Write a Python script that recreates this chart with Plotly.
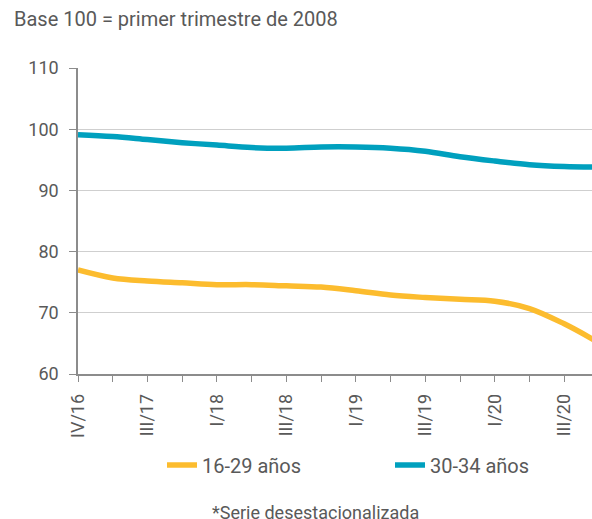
import plotly.graph_objects as go

# trimestres (eje x) y series
quarters = ["IV/16", "I/17", "III/17", "IV/17", "I/18", "II/18", "III/18", "IV/18",
            "I/19", "II/19", "III/19", "IV/19", "I/20", "II/20", "III/20", "IV/20"]
shown_labels = ["IV/16", "III/17", "I/18", "III/18", "I/19", "III/19", "I/20", "III/20"]
jovenes_16_29 = [77.0, 75.7, 75.2, 74.9, 74.6, 74.6, 74.4, 74.2,
                 73.6, 72.9, 72.5, 72.2, 71.9, 70.7, 68.2, 65.1]
jovenes_30_34 = [99.1, 98.8, 98.3, 97.8, 97.4, 97.0, 96.9, 97.1,
                 97.1, 96.9, 96.4, 95.5, 94.8, 94.2, 93.9, 93.8]

grey = "#595959"
font = "Roboto"

W, H = 592, 519
L, T, PW, PH = 78, 68, 514, 306

fig = go.Figure()
fig.add_trace(go.Scatter(x=quarters, y=jovenes_16_29, name="16-29 años", mode="lines",
                         line=dict(color="#FCBC2E", width=5.5, shape="spline")))
fig.add_trace(go.Scatter(x=quarters, y=jovenes_30_34, name="30-34 años", mode="lines",
                         line=dict(color="#00A0BE", width=5.5, shape="spline")))

fig.update_layout(
    width=W, height=H,
    margin=dict(l=L, r=W - L - PW, t=T, b=H - T - PH, autoexpand=False),
    plot_bgcolor="white", paper_bgcolor="white",
    font=dict(family=font, color=grey, size=18),
    showlegend=True,
    legend=dict(orientation="h", x=(162 - L) / PW, xanchor="left",
                y=-(465 - T - PH) / PH, yanchor="middle",
                font=dict(size=20, color=grey), itemwidth=30,
                entrywidthmode="pixels", entrywidth=183),
    xaxis=dict(
        range=[0, 14.8], automargin=False,
        tickmode="array", tickvals=quarters,
        ticktext=[q if q in shown_labels else "" for q in quarters],
        tickangle=-90, ticks="outside", ticklen=6, tickcolor="#8c8c8c",
        ticklabelstandoff=5,
        showline=True, linecolor="#8c8c8c", linewidth=1.5,
        showgrid=False, tickfont=dict(size=18, color=grey),
    ),
    yaxis=dict(
        range=[60, 110], dtick=10, automargin=False,
        ticks="outside", ticklen=7, tickcolor="#8c8c8c",
        ticklabelstandoff=7,
        showline=True, linecolor="#8c8c8c", linewidth=1.5,
        gridcolor="#cfcfcf", gridwidth=1,
        tickfont=dict(size=18, color=grey), zeroline=False,
    ),
    annotations=[
        dict(text="Base 100 = primer trimestre de 2008", xref="paper", yref="paper",
             x=(12 - L) / PW, y=1 + (T - 19) / PH, xanchor="left", yanchor="middle",
             showarrow=False, font=dict(size=20, color=grey)),
        dict(text="*Serie desestacionalizada", xref="paper", yref="paper",
             x=(315 - L) / PW, y=-(512 - T - PH) / PH, xanchor="center", yanchor="middle",
             showarrow=False, font=dict(size=18, color=grey)),
    ],
)

# sin margen en el body ni barras de desplazamiento
fig.write_html("out.html", config={"displayModeBar": False}, post_script=(
    "document.body.style.margin='0';"
    "document.body.style.overflow='hidden';"
    "document.documentElement.style.overflow='hidden';"
))
